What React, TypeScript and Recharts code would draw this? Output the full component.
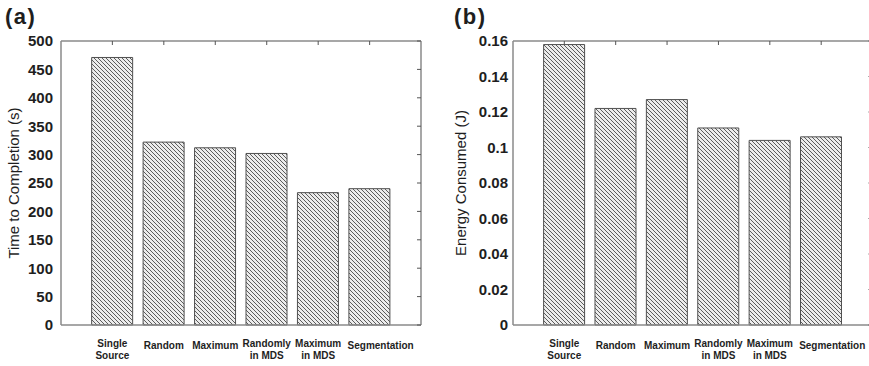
import { Bar, ComposedChart, Line, XAxis, YAxis } from "recharts";

const methods = [
  "Single\nSource",
  "Random",
  "Maximum",
  "Randomly\nin MDS",
  "Maximum\nin MDS",
  "Segmentation",
];
const completionTime = [471, 322, 312, 302, 233, 240];
const energyConsumed = [0.158, 0.122, 0.127, 0.111, 0.104, 0.106];

const timeTicks = [0, 50, 100, 150, 200, 250, 300, 350, 400, 450, 500];
const energyTicks = [0, 0.02, 0.04, 0.06, 0.08, 0.1, 0.12, 0.14, 0.16];

const FONT = "'Liberation Sans', Arial, sans-serif";
const TEXT = "#1e1e1e";
const FRAME = "#8a8a8a";

const timeData = methods.map((method, i) => ({ method, value: completionTime[i] }));
const energyData = methods.map((method, i) => ({ method, value: energyConsumed[i] }));

// two-line names sit a little higher than single-line ones;
// the long last name is pushed right so it clears its neighbour
function MethodTick({ x, y, payload, index }: any) {
  const lines = String(payload.value).split("\n");
  const offsets = lines.length === 1 ? [24] : [22, 34];
  const cx = index === methods.length - 1 ? x + 11 : x;
  return (
    <text
      x={cx}
      y={y}
      textAnchor="middle"
      fontSize={10}
      fontWeight={700}
      fill={TEXT}
      fontFamily={FONT}
    >
      {lines.map((line, i) => (
        <tspan key={i} x={cx} y={y + offsets[i]}>
          {line}
        </tspan>
      ))}
    </text>
  );
}

// frame axes keep their tick marks but draw no labels
const NoLabel = () => <g />;

interface PanelProps {
  id: string;
  data: { method: string; value: number }[];
  ticks: number[];
  width: number;
  axisWidth: number;
  marginRight: number;
  tickMargin: number;
  title: string;
  titleX: number;
}

function HatchedPanel({
  id, data, ticks, width, axisWidth, marginRight, tickMargin, title, titleX,
}: PanelProps) {
  const plotWidth = width - axisWidth - marginRight - 1;
  const pad = plotWidth / 14;
  const domain = [ticks[0], ticks[ticks.length - 1]];
  return (
    <ComposedChart
      width={width}
      height={366}
      data={data}
      margin={{ top: 41, right: marginRight, bottom: 0, left: 0 }}
    >
      <defs>
        <pattern id={id} patternUnits="userSpaceOnUse" width={4} height={4}>
          <rect width={4} height={4} fill="#ececec" />
          <path
            d="M-1,-1 L5,5 M-1,3 L1,5 M3,-1 L5,1"
            stroke="#5c5c5c"
            strokeWidth={1}
          />
        </pattern>
      </defs>
      <XAxis
        dataKey="method"
        height={41}
        padding={{ left: pad, right: pad }}
        tickLine={false}
        tickSize={0}
        tickMargin={0}
        axisLine={{ stroke: FRAME, strokeWidth: 1.5 }}
        tick={<MethodTick />}
        interval={0}
      />
      <XAxis
        xAxisId="top"
        orientation="top"
        dataKey="method"
        height={1}
        mirror
        interval={0}
        padding={{ left: pad, right: pad }}
        tick={NoLabel}
        tickSize={4}
        tickLine={{ stroke: "#555" }}
        axisLine={{ stroke: FRAME, strokeWidth: 1.5 }}
      />
      <YAxis
        width={axisWidth}
        domain={domain}
        ticks={ticks}
        interval={0}
        tickLine={false}
        tickSize={0}
        tickMargin={tickMargin}
        axisLine={{ stroke: FRAME, strokeWidth: 1.5 }}
        tick={{ fontSize: 15, fontWeight: 700, fill: TEXT, fontFamily: FONT }}
        tickFormatter={(v: number) => String(v)}
        label={{
          value: title,
          angle: -90,
          position: "insideLeft",
          offset: titleX,
          style: { textAnchor: "middle", fontSize: 15, fill: TEXT, fontFamily: FONT },
        }}
      />
      <YAxis
        yAxisId="right"
        orientation="right"
        width={1}
        mirror
        domain={domain}
        ticks={ticks}
        interval={0}
        tick={NoLabel}
        tickSize={4}
        tickLine={{ stroke: "#555" }}
        axisLine={{ stroke: FRAME, strokeWidth: 1.5 }}
      />
      <Bar
        dataKey="value"
        barSize={41}
        fill={`url(#${id})`}
        stroke="#505050"
        strokeWidth={1}
        isAnimationActive={false}
      />
      {/* unstroked series that binds the top and right frame axes */}
      <Line
        xAxisId="top"
        yAxisId="right"
        dataKey="value"
        stroke="none"
        dot={false}
        activeDot={false}
        legendType="none"
        isAnimationActive={false}
      />
    </ComposedChart>
  );
}

const panelLabel = {
  position: "absolute" as const,
  top: 4,
  fontFamily: FONT,
  fontWeight: 700,
  fontSize: 22,
  letterSpacing: 1.5,
  color: TEXT,
};

export default function App() {
  return (
    <div
      style={{
        position: "absolute",
        left: 0,
        top: 0,
        width: 869,
        height: 366,
        overflow: "hidden",
        background: "#fff",
      }}
    >
      <div style={{ position: "absolute", left: 0, top: 0 }}>
        <HatchedPanel
          id="hatchTime"
          data={timeData}
          ticks={timeTicks}
          width={435}
          axisWidth={61}
          marginRight={14}
          tickMargin={8}
          title="Time to Completion (s)"
          titleX={14}
        />
      </div>
      <div style={{ position: "absolute", left: 435, top: 0 }}>
        <HatchedPanel
          id="hatchEnergy"
          data={energyData}
          ticks={energyTicks}
          width={440}
          axisWidth={78}
          marginRight={2.5}
          tickMargin={5}
          title="Energy Consumed (J)"
          titleX={26}
        />
      </div>
      <span style={{ ...panelLabel, left: 5 }}>(a)</span>
      <span style={{ ...panelLabel, left: 454 }}>(b)</span>
    </div>
  );
}
